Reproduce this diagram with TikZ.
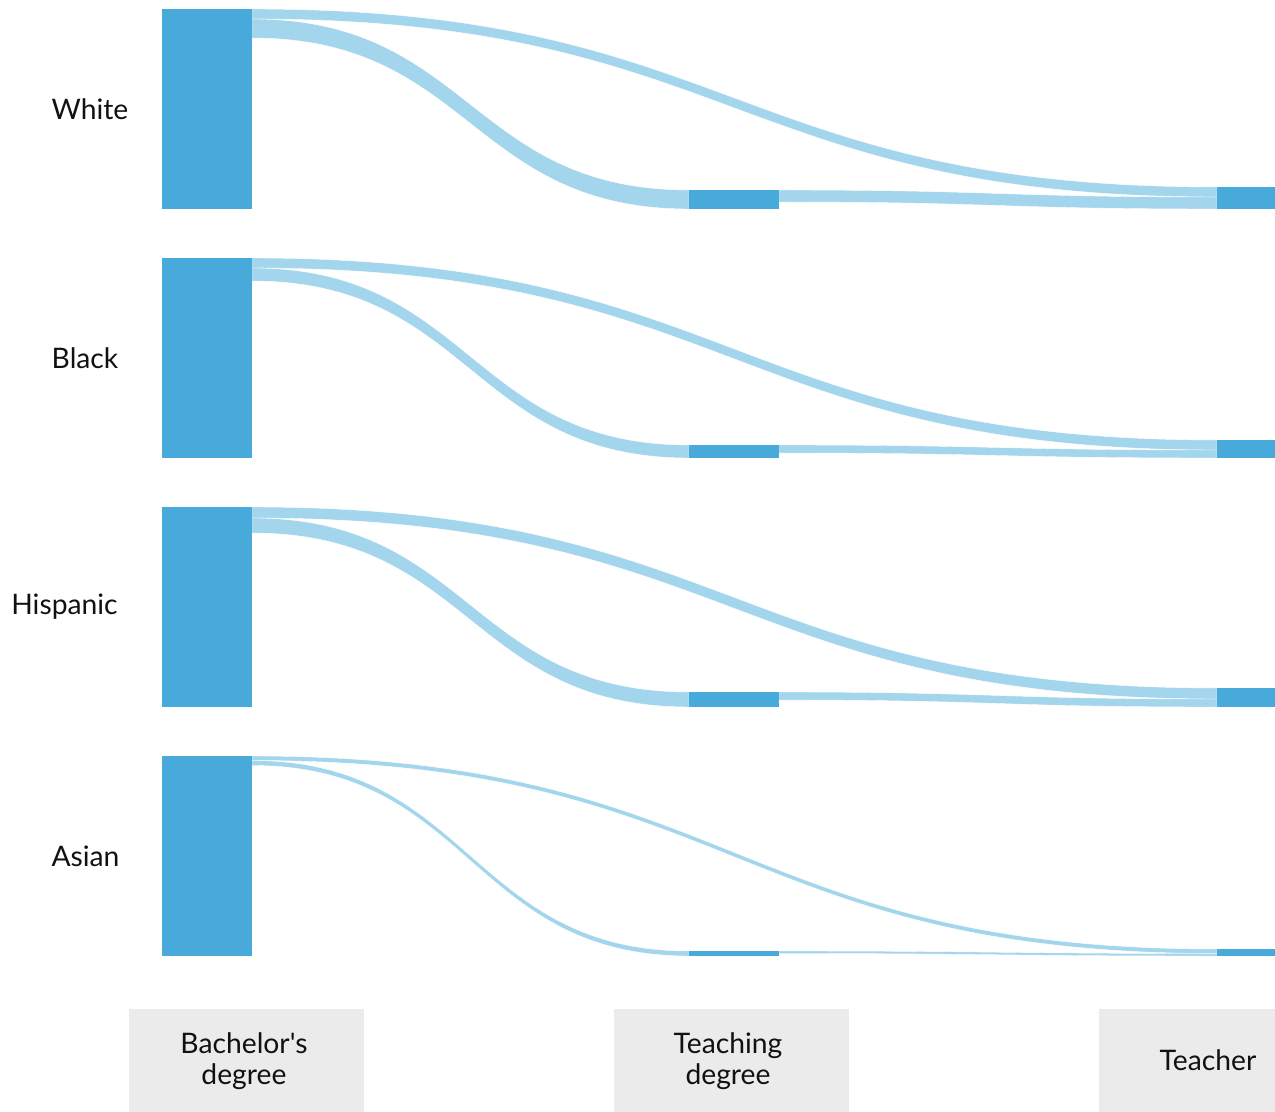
\documentclass[tikz,border=0pt]{standalone}
\usepackage{fontspec}
\setmainfont{Lato}[Ligatures=TeXOff]
\usetikzlibrary{fit}
\definecolor{nodeblue}{HTML}{48AADA}
\definecolor{flowblue}{HTML}{A3D5EC}
\definecolor{boxgray}{HTML}{EBEBEB}
\definecolor{txt}{HTML}{111111}
\tikzset{
  bar/.style={fill=nodeblue, inner sep=0pt, outer sep=0pt},
  flow/.style={fill=flowblue, draw=white, line width=0.3pt},
  colbox/.style={fill=boxgray, inner sep=0pt, outer sep=0pt},
  lbl/.style={font=\fontsize{21.2}{23.25}\selectfont, text=txt, align=center, inner sep=0pt}
}
\newcommand\band[6]{%
  \path[flow] (#1,#2) .. controls ({(#1+#4)/2},#2) and ({(#1+#4)/2},#5) .. (#4,#5)
    -- (#4,#6) .. controls ({(#1+#4)/2},#6) and ({(#1+#4)/2},#3) .. (#1,#3) -- cycle;}
\begin{document}
\begin{tikzpicture}[x=0.75pt,y=-0.75pt]
\useasboundingbox (0,0) rectangle (1275,1112);
% ---- flows ----
% White
\band{252}{9}{19}{1217}{187}{197}
\band{252}{19}{38}{689}{190}{209}
\band{779}{190}{202}{1217}{197}{209}
% Black
\band{252}{258}{268}{1217}{440}{450}
\band{252}{268}{281}{689}{445}{458}
\band{779}{445}{453}{1217}{450}{458}
% Hispanic
\band{252}{507}{518}{1217}{688}{699}
\band{252}{518}{533}{689}{692}{707}
\band{779}{692}{700}{1217}{699}{707}
% Asian
\band{252}{756}{760.5}{1217}{949}{953.5}
\band{252}{760.5}{765.5}{689}{951}{956}
\band{779}{951}{953.5}{1217}{953.5}{956}
% ---- nodes ----
\node[bar, fit={(162,9)(252,209)}] (Wb) {};
\node[bar, fit={(689,190)(779,209)}] (Wd) {};
\node[bar, fit={(1217,187)(1275,209)}] (Wt) {};
\node[bar, fit={(162,258)(252,458)}] (Bb) {};
\node[bar, fit={(689,445)(779,458)}] (Bd) {};
\node[bar, fit={(1217,440)(1275,458)}] (Bt) {};
\node[bar, fit={(162,507)(252,707)}] (Hb) {};
\node[bar, fit={(689,692)(779,707)}] (Hd) {};
\node[bar, fit={(1217,688)(1275,707)}] (Ht) {};
\node[bar, fit={(162,756)(252,956)}] (Ab) {};
\node[bar, fit={(689,951)(779,956)}] (Ad) {};
\node[bar, fit={(1217,949)(1275,956)}] (At) {};
% ---- row labels ----
\node[lbl] (lW) at (90,109) {White};
\node[lbl] (lB) at (85,358) {Black};
\node[lbl] (lH) at (64.5,607) {Hispanic};
\node[lbl] (lA) at (85.5,856) {Asian};
% ---- column boxes ----
\node[colbox, fit={(129,1009)(364,1112)}] (c1) {};
\node[colbox, fit={(614,1009)(849,1112)}] (c2) {};
\node[colbox, fit={(1099,1009)(1275,1112)}] (c3) {};
\node[lbl] (t1) at (244,1061) {Bachelor's\\degree};
\node[lbl] (t2) at (728,1061) {Teaching\\degree};
\node[lbl] (t3) at (1208,1060) {Teacher};
\end{tikzpicture}
\end{document}
